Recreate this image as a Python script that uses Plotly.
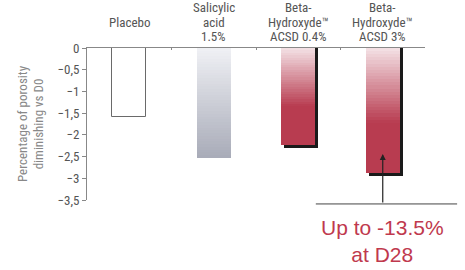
import plotly.graph_objects as go

categories = ["Placebo", "Salicylic<br>acid<br>1.5%", "Beta-<br>Hydroxyde™<br>ACSD 0.4%", "Beta-<br>Hydroxyde™<br>ACSD 3%"]
values = [-1.59, -2.53, -2.24, -2.87]
y_ticks = [0, -0.5, -1, -1.5, -2, -2.5, -3, -3.5]
callout = "Up to -13.5%<br>at D28"

FONT = "Liberation Sans Narrow, Roboto Condensed, Arial Narrow, Liberation Sans, sans-serif"
x = list(range(len(categories)))
W = 0.40
N = 40
TOP = 48

def lerp(c1, c2, t):
    return "rgb(%d,%d,%d)" % tuple(round(a + (b - a) * t) for a, b in zip(c1, c2))

grad = {
    1: ((240, 241, 245), (168, 171, 184), 1.0),
    2: ((244, 226, 230), (184, 60, 80), 0.6),
    3: ((244, 226, 230), (184, 60, 80), 0.6),
}

fig = go.Figure()

# shadows for the red bars
sx = [i for i in x if i >= 2]
fig.add_trace(go.Bar(x=sx, y=[values[i] - 0.07 for i in sx], base=0, width=W,
                     offset=-W / 2 + 0.035, marker=dict(color="#1a1a1a", line_width=0),
                     hoverinfo="skip", showlegend=False))

# gradient segments
for k in range(N):
    t = (k + 0.5) / N
    xs, ys, bs, cs = [], [], [], []
    for i in (1, 2, 3):
        v = values[i]
        c1, c2, reach = grad[i]
        xs.append(i)
        bs.append(v * k / N)
        ys.append(v / N * 1.02)
        cs.append(lerp(c1, c2, min(1.0, t / reach)))
    fig.add_trace(go.Bar(x=xs, y=ys, base=bs, width=W, marker=dict(color=cs, line_width=0),
                         hoverinfo="skip", showlegend=False))

# placebo outline bar
fig.add_trace(go.Bar(x=[0], y=[values[0]], base=0, width=W,
                     marker=dict(color="white", line=dict(color="#6a6a6a", width=1)),
                     hoverinfo="skip", showlegend=False))

# category labels, one annotation per line for tight line spacing
for i, c in enumerate(categories):
    lines = c.split("<br>")
    rows = [1] if len(lines) == 1 else list(range(len(lines)))
    for line, row in zip(lines, rows):
        ypix = 7.5 + 14.5 * row
        fig.add_annotation(x=i, xref="x", y=1, yref="paper", yshift=TOP - ypix, text=line,
                           showarrow=False, yanchor="middle", xanchor="center",
                           font=dict(family=FONT, size=13, color="#555"))

# arrow
fig.add_annotation(x=3, y=-2.44, xref="x", yref="y", ax=0, ay=50, text="",
                   showarrow=True, arrowhead=2, arrowsize=1, arrowwidth=1.2, arrowcolor="#222")
fig.add_shape(type="line", xref="paper", yref="paper", x0=0.677, x1=1.095, y0=-0.026, y1=-0.026,
              line=dict(color="#444", width=1))
fig.add_annotation(x=0.873, y=-0.27, xref="paper", yref="paper", text=callout, showarrow=False,
                   font=dict(family="Liberation Sans, Arial, sans-serif", size=21, color="#c0394e"),
                   yanchor="middle", xanchor="center")

fig.update_layout(
    width=465, height=270,
    margin=dict(l=87, r=40, t=TOP, b=70, autoexpand=False),
    plot_bgcolor="white", paper_bgcolor="white",
    barmode="overlay", bargap=0,
    separators=", ",
    font=dict(family=FONT, color="#555"),
    xaxis=dict(range=[-0.5, 3.5], side="top", showline=True, linecolor="#888", linewidth=1,
               tickvals=[0.5, 1.5, 2.5, 3.5], ticks="inside", ticklen=2, tickcolor="#888",
               showticklabels=False, showgrid=False, zeroline=False, fixedrange=True,
               automargin=False),
    yaxis=dict(range=[-3.5, 0], tickvals=y_ticks, showline=True, linecolor="#888", linewidth=1,
               ticks="outside", ticklen=4, tickcolor="#888", showgrid=False, zeroline=False,
               automargin=False, fixedrange=True,
               tickfont=dict(family=FONT, size=13, color="#555"),
               title=dict(text="Percentage of porosity<br>diminishing vs D0",
                          font=dict(family=FONT, size=13, color="#888"), standoff=10)),
)

fig.write_html("out.html", config={"displayModeBar": False},
               post_script="document.body.style.margin='0';")
